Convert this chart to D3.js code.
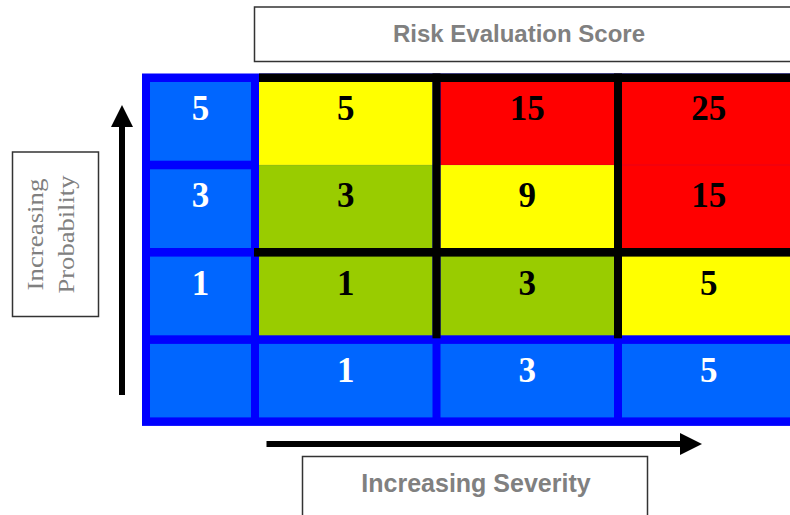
<!DOCTYPE html>
<html>
<head>
<meta charset="utf-8">
<script src="https://cdn.jsdelivr.net/npm/d3@7"></script>
<style>
  body { margin: 0; background: #fff; }
  svg { display: block; }
</style>
</head>
<body>
<div id="chart"></div>
<script>
// chart data
const severity = ["1", "3", "5"];
const probability = ["5", "3", "1"];
const scores = [
    [5, 15, 25],
    [3, 9, 15],
    [1, 3, 5]
];
const scoreBreaks = [4, 10];
const scoreColors = ["#99cc00", "#ffff00", "#ff0000"];
const title = "Risk Evaluation Score";
const xLabel = "Increasing Severity";
const yLabel = ["Increasing", "Probability"];

const width = 790, height = 515;
const gap = 8.5;
const frame = {x: 142, y: 73.5, right: 820};

const svg = d3.select("#chart")
    .append("svg")
        .attr("width", width)
        .attr("height", height);

// scales for the grid
const x = d3.scaleBand()
    .domain(severity)
    .range([259, 259 + 3 * 181.5 - 8])
    .paddingInner(8 / 181.5);

const y = d3.scaleBand()
    .domain(probability)
    .range([82, 82 + 3 * 87.3 - 8.6])
    .paddingInner(8.6 / 87.3);

const color = d3.scaleThreshold()
    .domain(scoreBreaks)
    .range(scoreColors);

const leftCol = {x: frame.x + 8, w: 101};
const axisRow = {y: y(probability[probability.length - 1]) + y.step(), h: 73.5};
const frameBottom = axisRow.y + axisRow.h + 8.5;

// blue frame
svg.append("rect")
    .attr("x", frame.x)
    .attr("y", frame.y)
    .attr("width", frame.right - frame.x)
    .attr("height", frameBottom - frame.y)
    .attr("fill", "#0000ff");

// probability labels (left column)
const rowG = svg.append("g");
rowG.selectAll("rect")
    .data(probability)
    .join("rect")
        .attr("x", leftCol.x)
        .attr("y", d => y(d))
        .attr("width", leftCol.w)
        .attr("height", y.bandwidth())
        .attr("fill", "#0066ff");

// severity labels (bottom row) incl. empty corner cell
const colG = svg.append("g");
colG.append("rect")
    .attr("x", leftCol.x)
    .attr("y", axisRow.y)
    .attr("width", leftCol.w)
    .attr("height", axisRow.h)
    .attr("fill", "#0066ff");
colG.selectAll("rect.sev")
    .data(severity)
    .join("rect")
        .attr("class", "sev")
        .attr("x", d => x(d))
        .attr("y", axisRow.y)
        .attr("width", x.bandwidth())
        .attr("height", axisRow.h)
        .attr("fill", "#0066ff");

// score cells
const cells = [];
probability.forEach((p, i) => {
    severity.forEach((s, j) => {
        cells.push({p, s, i, value: scores[i][j]});
    });
});
const last = probability.length - 1;

svg.append("g")
    .selectAll("rect")
    .data(cells)
    .join("rect")
        .attr("x", d => x(d.s))
        .attr("y", d => d.i === 0 ? y(d.p) : y(d.p) - gap / 2)
        .attr("width", x.bandwidth())
        .attr("height", d => y.bandwidth() + (d.i === 0 ? 0 : gap / 2) + (d.i === last ? 0 : gap / 2))
        .attr("fill", d => color(d.value));

// black grid lines
const black = svg.append("g").attr("fill", "#000");
black.append("rect")
    .attr("x", x.range()[0])
    .attr("y", frame.y)
    .attr("width", frame.right - x.range()[0])
    .attr("height", y.range()[0] - frame.y);
black.append("rect")
    .attr("x", x.range()[0] - 5)
    .attr("y", y("3") + y.bandwidth())
    .attr("width", frame.right - x.range()[0] + 5)
    .attr("height", y("1") - y("3") - y.bandwidth());
black.selectAll("rect.v")
    .data(severity.slice(1))
    .join("rect")
        .attr("class", "v")
        .attr("x", d => x(d) - (x.step() - x.bandwidth()))
        .attr("y", frame.y)
        .attr("width", x.step() - x.bandwidth())
        .attr("height", y("1") + y.bandwidth() + 3 - frame.y);

// numbers
const numFont = "'Liberation Serif', 'Times New Roman', serif";
const baseOff = 38;
svg.append("g")
    .selectAll("text")
    .data(cells)
    .join("text")
        .attr("x", d => x(d.s) + x.bandwidth() / 2)
        .attr("y", d => y(d.p) + baseOff)
        .attr("text-anchor", "middle")
        .style("font-family", numFont)
        .style("font-weight", "bold")
        .style("font-size", "35px")
        .attr("fill", "#000")
        .text(d => d.value);

rowG.selectAll("text")
    .data(probability)
    .join("text")
        .attr("x", leftCol.x + leftCol.w / 2)
        .attr("y", d => y(d) + baseOff)
        .attr("text-anchor", "middle")
        .style("font-family", numFont)
        .style("font-weight", "bold")
        .style("font-size", "35px")
        .attr("fill", "#fff")
        .text(d => d);

colG.selectAll("text")
    .data(severity)
    .join("text")
        .attr("x", d => x(d) + x.bandwidth() / 2)
        .attr("y", axisRow.y + baseOff)
        .attr("text-anchor", "middle")
        .style("font-family", numFont)
        .style("font-weight", "bold")
        .style("font-size", "35px")
        .attr("fill", "#fff")
        .text(d => d);

// title box
svg.append("rect")
    .attr("x", 254.5)
    .attr("y", 7)
    .attr("width", 600)
    .attr("height", 54.5)
    .attr("fill", "#fff")
    .attr("stroke", "#333")
    .attr("stroke-width", 1.5);
svg.append("text")
    .attr("x", 519)
    .attr("y", 41.5)
    .attr("text-anchor", "middle")
    .style("font-family", "'Liberation Sans', Arial, sans-serif")
    .style("font-weight", "bold")
    .style("font-size", "24px")
    .attr("fill", "#808080")
    .text(title);

// x label box
svg.append("rect")
    .attr("x", 302.5)
    .attr("y", 456.5)
    .attr("width", 345)
    .attr("height", 80)
    .attr("fill", "#fff")
    .attr("stroke", "#333")
    .attr("stroke-width", 1.5);
svg.append("text")
    .attr("x", 476)
    .attr("y", 491.5)
    .attr("text-anchor", "middle")
    .style("font-family", "'Liberation Sans', Arial, sans-serif")
    .style("font-weight", "bold")
    .style("font-size", "25px")
    .attr("fill", "#808080")
    .text(xLabel);

// y label box
svg.append("rect")
    .attr("x", 12.5)
    .attr("y", 152)
    .attr("width", 86)
    .attr("height", 164.5)
    .attr("fill", "#fff")
    .attr("stroke", "#333")
    .attr("stroke-width", 1.5);
const yl = svg.append("g")
    .attr("transform", "translate(55.3, 234.5) rotate(-90)");
yl.selectAll("text")
    .data(yLabel)
    .join("text")
        .attr("x", 0)
        .attr("y", (d, i) => i === 0 ? -12 : 18.5)
        .attr("text-anchor", "middle")
        .attr("textLength", (d, i) => i === 0 ? 112 : 118)
        .attr("lengthAdjust", "spacingAndGlyphs")
        .style("font-family", numFont)
        .style("font-size", "23px")
        .attr("fill", "#808080")
        .text(d => d);

// arrows
const arrows = svg.append("g").attr("fill", "#000");
// vertical (probability)
arrows.append("rect")
    .attr("x", 119)
    .attr("y", 120)
    .attr("width", 6)
    .attr("height", 395 - 120);
arrows.append("path")
    .attr("d", d3.line()([[122, 105], [133, 127], [111, 127]]) + "Z");
// horizontal (severity)
arrows.append("rect")
    .attr("x", 266.5)
    .attr("y", 441)
    .attr("width", 690 - 266.5)
    .attr("height", 6);
arrows.append("path")
    .attr("d", d3.line()([[702, 444], [680, 433], [680, 455]]) + "Z");
</script>
</body>
</html>
